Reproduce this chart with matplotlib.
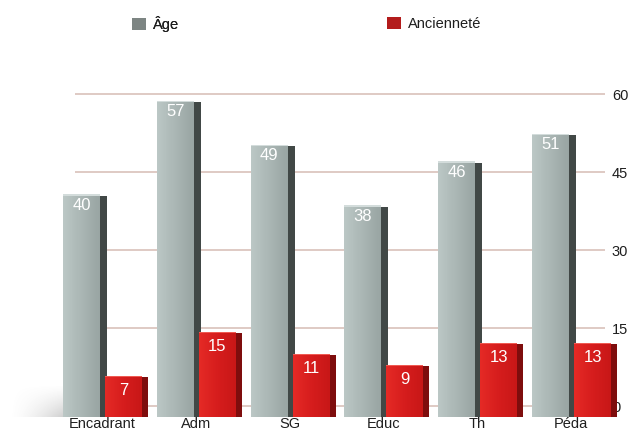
import numpy as np
import matplotlib
matplotlib.use("Agg")
import matplotlib.pyplot as plt
from matplotlib.patches import Patch
from matplotlib.colors import LinearSegmentedColormap

plt.rcParams['font.family'] = ['Liberation Sans', 'DejaVu Sans']

categories = ["Encadrant", "Adm", "SG", "Educ", "Th", "Péda"]
age = [40, 57, 49, 38, 46, 51]
anciennete = [7, 15, 11, 9, 13, 13]
y_ticks = [0, 15, 30, 45, 60]
series_names = ["Âge", "Ancienneté"]

W, H = 637, 433
fig = plt.figure(figsize=(W / 100, H / 100), dpi=100)
fig.patch.set_facecolor("white")

px_per_cat = 93.8
x0_px = 103
bottom_px, top_px = 420, 80
b = (H - bottom_px) / H
h = (bottom_px - top_px) / H

# grid / tick axes (back plane)
axg = fig.add_axes([0, b, 605 / W, h])
axg.set_xlim(-x0_px / px_per_cat, (605 - x0_px) / px_per_cat)
axg.set_ylim(-14 / 5.2, (340 - 14) / 5.2)
axg.hlines(y_ticks, -0.30, axg.get_xlim()[1], color="#dcc6bf", lw=1.3, zorder=1)
axg.yaxis.tick_right()
axg.set_yticks(y_ticks)
axg.set_yticklabels([str(t) for t in y_ticks], fontsize=10.5, color="#1e1e1e")
axg.tick_params(axis="y", length=0, pad=5)
axg.set_xticks([])
for s in axg.spines.values():
    s.set_visible(False)
axg.patch.set_alpha(0)

# bars axes (front plane)
axb = fig.add_axes([0, b, 1, h])
axb.patch.set_alpha(0)
xlim = (-x0_px / px_per_cat, (W - x0_px) / px_per_cat)
ylim = (-6 / 5.5, (340 - 6) / 5.5)
axb.set_xlim(*xlim)
axb.set_ylim(*ylim)
for s in axb.spines.values():
    s.set_visible(False)
axb.set_yticks([])

x = np.arange(len(categories))
base = -0.5

# floor shadow
sh = np.zeros((20, 60, 4))
gx = np.linspace(0, 1, 60)[None, :]
gy = np.linspace(0, 1, 20)[:, None]
sh[..., :3] = 0.45
sh[..., 3] = 0.35 * gx ** 1.5 * (1 - gy) ** 1.2
axb.imshow(sh, extent=(-1.0, -0.40, base, 5.5), origin="lower", aspect="auto", zorder=0.5,
           interpolation="bilinear")

gray_cmap = LinearSegmentedColormap.from_list("g", ["#bcc8c6", "#aab6b4", "#99a5a3"])
red_cmap = LinearSegmentedColormap.from_list("r", ["#e52a26", "#d61d1d", "#c81717"])
grad = np.linspace(0, 1, 64)[None, :]


def grad_bars(xs, vals, width, cmap, z):
    bars = axb.bar(xs, [v - base for v in vals], width=width, bottom=base,
                   color="none", edgecolor="none", zorder=z)
    for bar in bars:
        x_a, y_a = bar.get_x(), bar.get_y()
        im = axb.imshow(grad, cmap=cmap, extent=(x_a, x_a + bar.get_width(), y_a, y_a + bar.get_height()),
                        aspect="auto", zorder=z, interpolation="bilinear")
        im.set_clip_path(bar)
    return bars


# grey bars: side then face
gw, gs = 0.394, 0.075
axb.bar(x - 0.032 + gs / 2, [v - base - 0.3 for v in age], width=gs, bottom=base,
        color="#414846", edgecolor="none", zorder=2)
grad_bars(x - 0.229, age, gw, gray_cmap, 3)
axb.bar(x - 0.229, [0.35] * len(age), width=gw, bottom=[v - 0.35 for v in age],
        color="#d3dcdb", edgecolor="none", zorder=3.5)

# red bars
rw, rs = 0.394, 0.064
axb.bar(x + 0.416 + rs / 2, [v - base - 0.3 for v in anciennete], width=rs, bottom=base,
        color="#7e0d0d", edgecolor="none", zorder=4)
grad_bars(x + 0.219, anciennete, rw, red_cmap, 5)
axb.bar(x + 0.219, [0.35] * len(anciennete), width=rw, bottom=[v - 0.35 for v in anciennete],
        color="#ef5a52", edgecolor="none", zorder=5.5)

for xi, v in zip(x - 0.229, age):
    axb.annotate(str(v), (xi, v), xytext=(0, -8), textcoords="offset points",
                 ha="center", va="center", color="white", fontsize=12, zorder=6)
for xi, v in zip(x + 0.219, anciennete):
    axb.annotate(str(v), (xi, v), xytext=(0, -11), textcoords="offset points",
                 ha="center", va="center", color="white", fontsize=12, zorder=6)

axb.set_xlim(*xlim)
axb.set_ylim(*ylim)
axb.set_xticks(x - 0.01)
axb.set_xticklabels(categories, fontsize=10.5, color="#1e1e1e")
axb.tick_params(axis="x", length=0, pad=-2)

# legend
leg1 = fig.legend(handles=[Patch(facecolor="#7d8583", edgecolor="none")], labels=[series_names[0]],
                  loc="center left", bbox_to_anchor=(125 / W, 1 - 24 / H), frameon=False,
                  borderpad=0, handlelength=0.95, handleheight=0.95, handletextpad=0.5,
                  fontsize=10.5, labelcolor="#1e1e1e")
fig.add_artist(leg1)
fig.legend(handles=[Patch(facecolor="#b31c1c", edgecolor="none")], labels=[series_names[1]],
           loc="center left", bbox_to_anchor=(380 / W, 1 - 24 / H), frameon=False,
           borderpad=0, handlelength=0.95, handleheight=0.95, handletextpad=0.5,
           fontsize=10.5, labelcolor="#1e1e1e")

fig.savefig("out.png", dpi=100, facecolor="white")
